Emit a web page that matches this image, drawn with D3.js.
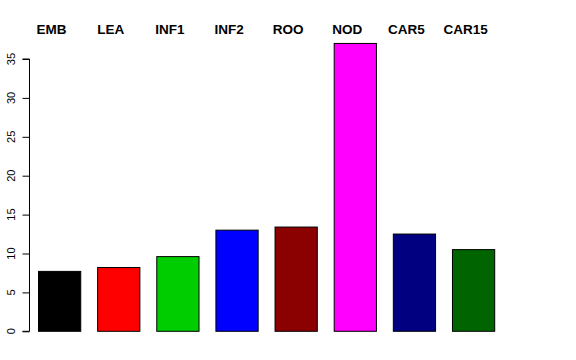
<!DOCTYPE html>
<html>
<head>
<meta charset="utf-8">
<script src="https://cdn.jsdelivr.net/npm/d3@7"></script>
<style>
  body { margin: 0; background: #fff; }
  text { font-family: "Liberation Sans", Arial, sans-serif; }
</style>
</head>
<body>
<svg id="chart" width="576" height="360"></svg>
<script>
const categories = ["EMB", "LEA", "INF1", "INF2", "ROO", "NOD", "CAR5", "CAR15"];
const values = [7.7, 8.2, 9.6, 13.0, 13.4, 37.0, 12.5, 10.5];
const colors = ["#000000", "#ff0000", "#00cd00", "#0000ff", "#8b0000", "#ff00ff", "#000080", "#006400"];
const yTicks = [0, 5, 10, 15, 20, 25, 30, 35];

const svg = d3.select("#chart");

const x = d3.scaleBand()
    .domain(categories)
    .range([21.1, 511.1])
    .paddingInner(0.4 / 1.4)
    .paddingOuter(0.4 / 1.4);

const y = d3.scaleLinear()
    .domain([0, 35])
    .range([331.3, 59]);

// y axis, R style
const axis = svg.append("g")
    .attr("transform", "translate(29.5,0)")
    .call(d3.axisLeft(y).tickValues(yTicks).tickSize(7).tickPadding(0).tickFormat(""));
axis.selectAll("path, line").attr("stroke", "#000").attr("stroke-width", 1);
axis.select(".domain").attr("d", `M-7,${y(0)}H0V${y(35)}H-7`);

svg.selectAll(".ylab")
    .data(yTicks)
    .enter().append("text")
    .attr("class", "ylab")
    .attr("transform", d => `translate(15,${y(d)}) rotate(-90)`)
    .attr("text-anchor", "middle")
    .attr("font-size", 11)
    .text(d => d);

svg.selectAll(".bar")
    .data(values)
    .enter().append("rect")
    .attr("class", "bar")
    .attr("x", (d, i) => x(categories[i]) + 0.5)
    .attr("y", d => y(d))
    .attr("width", x.bandwidth())
    .attr("height", d => y(0) - y(d))
    .attr("fill", (d, i) => colors[i])
    .attr("stroke", "#000")
    .attr("stroke-width", 1);

svg.selectAll(".lab")
    .data(categories)
    .enter().append("text")
    .attr("class", "lab")
    .attr("x", d => x(d) + x.bandwidth() / 2 - 7.5)
    .attr("y", 34)
    .attr("text-anchor", "middle")
    .attr("font-size", 13.5)
    .attr("font-weight", "bold")
    .text(d => d);
</script>
</body>
</html>
